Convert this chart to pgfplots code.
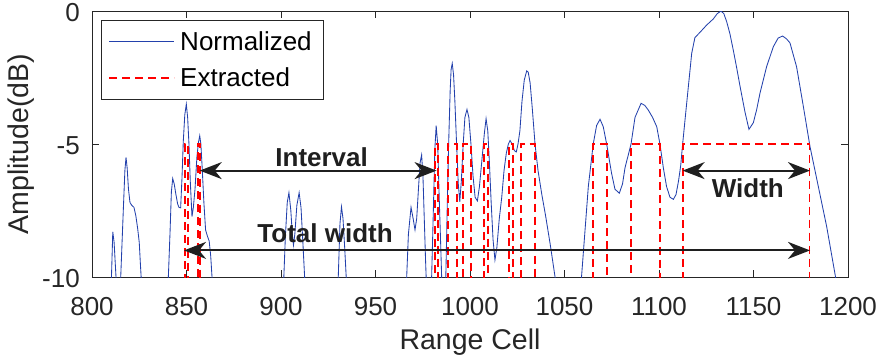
\documentclass[border=0pt]{standalone}
\usepackage{pgfplots}
\pgfplotsset{compat=1.18}
\usepackage{fontspec}
\setmainfont{Liberation Sans}
\usetikzlibrary{arrows.meta,calc}
\definecolor{mgray}{rgb}{0.15,0.15,0.15}
\definecolor{mblue}{RGB}{35,65,172}
\definecolor{mred}{RGB}{255,0,0}
\begin{document}
\begin{tikzpicture}
\begin{axis}[
  name=ax,
  scale only axis, width=756pt, height=266pt,
  xmin=800, xmax=1200, ymin=-10, ymax=0,
  xtick={800,850,900,950,1000,1050,1100,1150,1200},
  xticklabels={800,850,900,950,1000,1050,1100,1150,1200},
  ytick={-10,-5,0}, yticklabels={-10,-5,0},
  tick align=inside, major tick length=7pt,
  axis line style={draw=mgray, line width=0.8pt},
  every tick/.style={draw=mgray, line width=0.8pt},
  tick label style={font=\fontsize{26}{30}\selectfont, text=mgray},
  xticklabel style={anchor=base, inner sep=0pt, yshift=-38pt},
  yticklabel style={anchor=east, inner sep=0pt, xshift=-12pt, yshift=-2pt},
  label style={font=\fontsize{28.5}{32}\selectfont, text=mgray},
  xlabel={Range Cell},
  xlabel style={at={(axis description cs:0.5,0)}, anchor=base, yshift=-72pt},
  ylabel={Amplitude(dB)},
  ylabel style={at={(axis description cs:-0.0842,0.5)}, anchor=base},
  legend style={at={(axis description cs:0.0119,0.966)}, anchor=north west,
    draw=mgray, line width=0.7pt, fill=white, text=black,
    font=\fontsize{26}{30}\selectfont,
    inner xsep=7pt, inner ysep=9pt, row sep=12pt,
    nodes={inner xsep=5pt}},
  legend cell align=left,
  legend image code/.code={\draw[#1] (0pt,0pt) -- (65pt,0pt);},
]
\addplot[mblue, line width=0.85pt] coordinates {
(805,-13) (809.6,-11) (810.3,-10) (811,-8.3) (811.7,-8.7) (812.7,-10) (813.2,-11)
(814.7,-11) (815.2,-10) (816.5,-7.6) (817.4,-6.0) (818,-5.5) (818.6,-5.9) (819.3,-6.7)
(820.1,-7.2) (821,-7.3) (822.2,-7.38) (823.2,-7.7) (824.2,-8.2) (825,-8.7) (825.6,-9.5)
(826,-10) (826.4,-11)
(839.8,-11) (840.4,-10) (841.3,-8.3) (842,-6.8) (842.7,-6.3) (843.5,-6.5) (844.4,-6.9)
(845.3,-7.25) (846,-7.38) (846.9,-7.4) (847.6,-6.3) (848.3,-4.9) (849.1,-3.9) (849.9,-3.5)
(850.6,-4.0) (851.3,-5.0) (852,-6.4) (852.9,-7.73) (853.6,-7.4) (854.5,-6.7) (855.5,-5.5)
(856.3,-4.95) (857,-4.69) (857.6,-5.0) (858.3,-5.9) (859.2,-7.2) (860.1,-8.23) (861,-8.45)
(862,-8.65) (862.8,-9.2) (863.5,-10) (864,-11)
(900.7,-11) (901.5,-10) (902.3,-8.5) (903.3,-7.2) (904.2,-6.83) (905.2,-7.5) (906,-8.4)
(906.6,-8.8) (907.3,-8.4) (908.4,-7.3) (909.6,-6.83) (910.6,-7.4) (911.5,-8.6) (912.5,-10)
(913,-11)
(929.7,-11) (930.3,-10) (931.2,-8.0) (932,-7.36) (932.8,-7.8) (933.7,-8.9) (934.5,-10)
(935,-11)
(965.8,-11) (966.5,-10) (967.4,-8.4) (968.8,-7.38) (969.9,-7.8) (970.9,-8.23) (971.8,-7.8)
(972.8,-6.6) (973.6,-5.7) (974.4,-5.41) (975.1,-6.2) (975.8,-7.8) (976.5,-9.4) (976.8,-10)
(977.2,-11)
(979.2,-11) (979.7,-10) (980.5,-7.8) (981.4,-5.2) (982.1,-4.31) (982.9,-5.0) (983.7,-7.0)
(984.5,-8.8) (985,-10) (985.5,-11)
(986.6,-11) (987.2,-10) (988,-7.2) (988.7,-5.0) (989.5,-3.0) (990,-2.2) (990.6,-1.97)
(991.3,-2.4) (992,-3.4) (992.9,-5.0) (993.8,-6.5) (994.6,-7.17) (995.4,-6.4) (996.4,-5.0)
(997.3,-4.0) (998.4,-3.7) (999.4,-4.0) (1000.5,-5.0) (1001.6,-6.2) (1002.7,-7.0) (1003.9,-7.14)
(1005,-6.6) (1006.3,-5.6) (1007.6,-4.6) (1008.5,-4.05) (1009.4,-4.5) (1010.2,-5.6) (1011.2,-7.2)
(1012.2,-8.6) (1013.2,-9.36) (1014.2,-8.9) (1015.5,-7.8) (1016.8,-7.0) (1018,-6.0) (1019.2,-5.35)
(1020.3,-5.0) (1021.2,-4.87) (1022.3,-5.0) (1023.5,-5.25) (1024.5,-5.3) (1025.4,-5.0) (1026.4,-4.5)
(1027.5,-3.4) (1028.7,-2.6) (1030,-2.25) (1030.8,-2.3) (1031.8,-2.7) (1033,-3.7) (1034.4,-5.0)
(1036,-6.0) (1038,-6.9) (1040,-7.7) (1042.5,-8.8) (1045,-10) (1045.6,-11)
(1058.5,-11) (1059,-10) (1060.8,-8.3) (1062.6,-6.6) (1065.2,-5.0) (1067,-4.3) (1068.8,-4.07)
(1070.5,-4.35) (1072.3,-5.0) (1074.9,-6.1) (1076.7,-6.7) (1079,-6.85) (1080.7,-6.5) (1082,-5.9)
(1085.2,-5.0) (1087.3,-4.0) (1090.5,-3.47) (1092.5,-3.55) (1094.3,-3.72) (1096.6,-4.0) (1098.8,-4.35)
(1100.5,-5.0) (1102.3,-5.9) (1104,-6.6) (1105.8,-7.0) (1107.6,-7.08) (1109,-6.9) (1110.3,-6.4)
(1111.5,-5.8) (1112.5,-5.0) (1114.6,-3.5) (1117.3,-1.59) (1119,-1.0) (1121.7,-0.8) (1125.2,-0.53)
(1128.7,-0.3) (1130.8,-0.1) (1132.8,0) (1134.3,-0.1) (1135.8,-0.4) (1137.5,-0.85) (1139.3,-1.47)
(1141,-2.1) (1142.9,-2.84) (1145.5,-3.8) (1147.6,-4.45) (1149.9,-4.2) (1151.7,-3.7) (1153.4,-3.1)
(1156.9,-2.1) (1160.5,-1.34) (1163,-1.02) (1165.4,-0.94) (1167.5,-1.05) (1169.3,-1.2) (1172.8,-2.1)
(1176.4,-3.6) (1179.9,-5.1) (1184.3,-6.6) (1188.7,-8.1) (1193.4,-10) (1195,-11.2) (1197,-13)
};
\addlegendentry{Normalized}
\addplot[mred, line width=1.9pt, dash pattern=on 8pt off 5pt] coordinates {
(840,-11) (849.2,-11) (849.2,-5) (850.9,-5) (850.9,-11)
(856.3,-11) (856.3,-5) (857.3,-5) (857.3,-11)
(981.5,-11) (981.5,-5) (982.9,-5) (982.9,-11)
(988.5,-11) (988.5,-5) (992.9,-5) (992.9,-11)
(996.4,-11) (996.4,-5) (1000.5,-5) (1000.5,-11)
(1007.6,-11) (1007.6,-5) (1009.7,-5) (1009.7,-11)
(1020.6,-11) (1020.6,-5) (1022.6,-5) (1022.6,-11)
(1026.8,-11) (1026.8,-5) (1034.4,-5) (1034.4,-11)
(1065.2,-11) (1065.2,-5) (1072.5,-5) (1072.5,-11)
(1085.3,-11) (1085.3,-5) (1100.3,-5) (1100.3,-11)
(1112.5,-11) (1112.5,-5) (1179.6,-5) (1179.6,-11)
};
\addlegendentry{Extracted}
\draw[{Stealth[length=22pt,width=17pt,inset=7pt]}-{Stealth[length=22pt,width=17pt,inset=7pt]}, line width=2pt, black!88]
  (axis cs:857,-6) -- (axis cs:982.3,-6);
\draw[{Stealth[length=22pt,width=17pt,inset=7pt]}-{Stealth[length=22pt,width=17pt,inset=7pt]}, line width=2pt, black!88]
  (axis cs:848.7,-9) -- (axis cs:1179.9,-9);
\draw[{Stealth[length=22pt,width=17pt,inset=7pt]}-{Stealth[length=22pt,width=17pt,inset=7pt]}, line width=2pt, black!88]
  (axis cs:1112.5,-6) -- (axis cs:1179.9,-6);
\node[anchor=base, inner sep=0pt, text=black!88, font=\bfseries\fontsize{26}{30}\selectfont] at (axis cs:921.5,-5.85) {Interval};
\node[anchor=base, inner sep=0pt, text=black!88, font=\bfseries\fontsize{26}{30}\selectfont] at (axis cs:923.3,-8.71) {Total width};
\node[anchor=base, inner sep=0pt, text=black!88, font=\bfseries\fontsize{26}{30}\selectfont] at (axis cs:1147,-7.0) {Width};
\end{axis}
\pgfresetboundingbox
\path ($(ax.south west)+(-92pt,-85pt)$) rectangle ($(ax.north east)+(40pt,11pt)$);
\end{tikzpicture}
\end{document}
